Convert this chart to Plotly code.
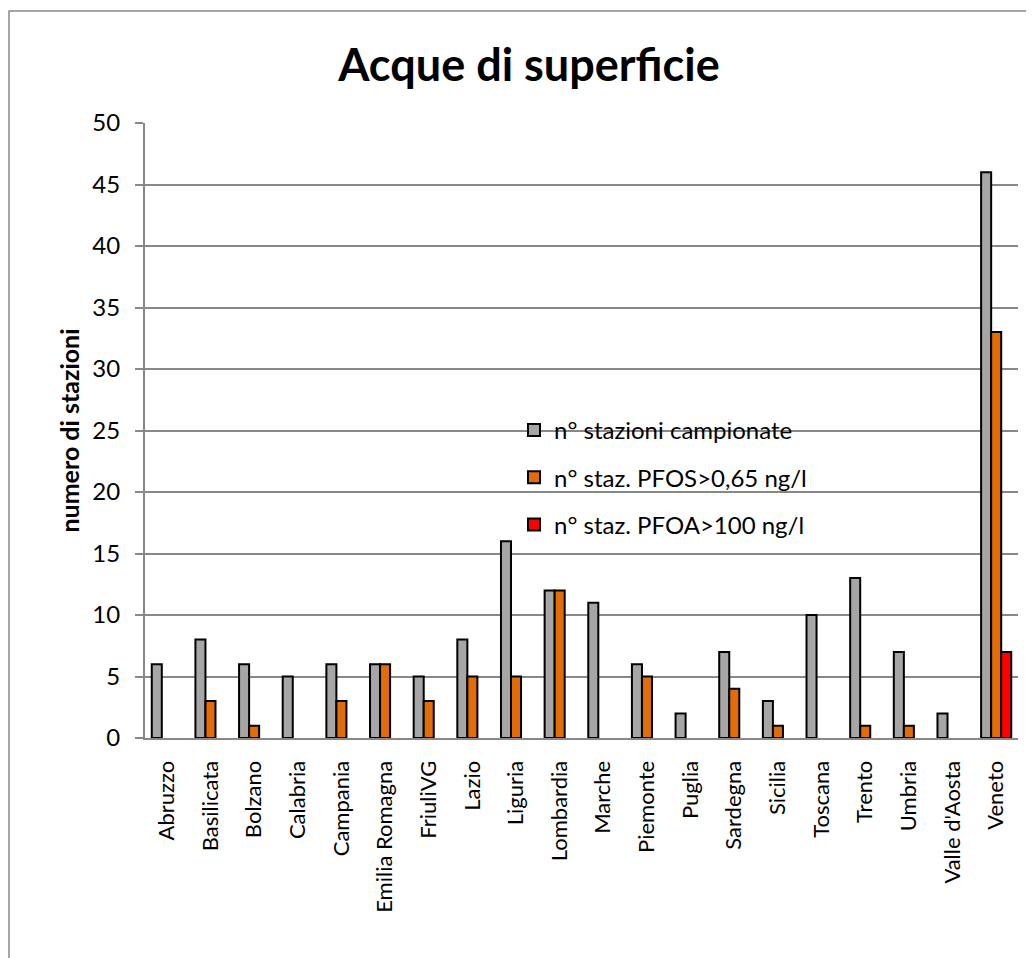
import plotly.graph_objects as go

# data
regioni = ['Abruzzo', 'Basilicata', 'Bolzano', 'Calabria', 'Campania',
           'Emilia Romagna', 'FriuliVG', 'Lazio', 'Liguria', 'Lombardia',
           'Marche', 'Piemonte', 'Puglia', 'Sardegna', 'Sicilia', 'Toscana',
           'Trento', 'Umbria', "Valle d'Aosta", 'Veneto']
stazioni = [6, 8, 6, 5, 6, 6, 5, 8, 16, 12, 11, 6, 2, 7, 3, 10, 13, 7, 2, 46]
pfos = [0, 3, 1, 0, 3, 6, 3, 5, 5, 12, 0, 5, 0, 4, 1, 0, 1, 1, 0, 33]
pfoa = [0, 0, 0, 0, 0, 0, 0, 0, 0, 0, 0, 0, 0, 0, 0, 0, 0, 0, 0, 7]

serie_nomi = ['n° stazioni campionate', 'n° staz. PFOS>0,65 ng/l', 'n° staz. PFOA>100 ng/l']
serie_colori = ['#A6A6A6', '#E36C09', '#FF0000']

FONT = 'Lato, Calibri, sans-serif'

fig = go.Figure()
for nome, vals, col in zip(serie_nomi, [stazioni, pfos, pfoa], serie_colori):
    # zero counts: no bar at all (like Excel), otherwise plotly draws a flat outline
    yv = [v if v else None for v in vals]
    fig.add_trace(go.Bar(x=regioni, y=yv, name=nome, legendgroup=nome,
                         marker=dict(color=col, line=dict(color='black', width=2))))

# page has an 8px body margin, so the figure itself is shifted by 8px
W, H = 1026, 950
ml, mr, mt, mb = 137, 16, 115, 220
pw, ph = W - ml - mr, H - mt - mb

fig.update_layout(
    width=W, height=H,
    margin=dict(l=ml, r=mr, t=mt, b=mb),
    paper_bgcolor='white', plot_bgcolor='white',
    font=dict(family=FONT, color='black', size=23),
    barmode='group', bargap=0.31, bargroupgap=0,
    title=dict(text='<b>Acque di superficie</b>', x=(529 - 8) / W, xanchor='center',
               y=1 - 57 / H, yanchor='middle',
               font=dict(size=45, family=FONT, color='black')),
    legend=dict(x=(514 - 8 - ml) / pw, y=(mt + ph - 400) / ph, xanchor='left', yanchor='top',
                bgcolor='rgba(0,0,0,0)', font=dict(size=24), tracegroupgap=13,
                itemwidth=30),
    xaxis=dict(tickangle=-90, showline=True, linecolor='#888888', linewidth=2,
               ticks='', ticklabelstandoff=12, tickfont=dict(size=22)),
    yaxis=dict(range=[0, 50], dtick=5, showgrid=True, gridcolor='#888888', gridwidth=1.5,
               showline=True, linecolor='#888888', linewidth=2,
               ticks='outside', ticklen=8, tickcolor='#888888', tickwidth=2,
               ticklabelstandoff=10, tickfont=dict(size=24), zeroline=False,
               title=dict(text='<b>numero di stazioni</b>', font=dict(size=25), standoff=6)),
)

# outer chart frame (cut off on the right and bottom, as in the picture)
fig.add_shape(type='rect', xref='paper', yref='paper',
              x0=(1 - ml) / pw, x1=(W + 10 - ml) / pw,
              y0=-(H + 10 - mt - ph) / ph, y1=(H - mb - 3) / ph,
              line=dict(color='#888888', width=1.5), fillcolor='rgba(0,0,0,0)', layer='below')

fig.write_html('out.html')
